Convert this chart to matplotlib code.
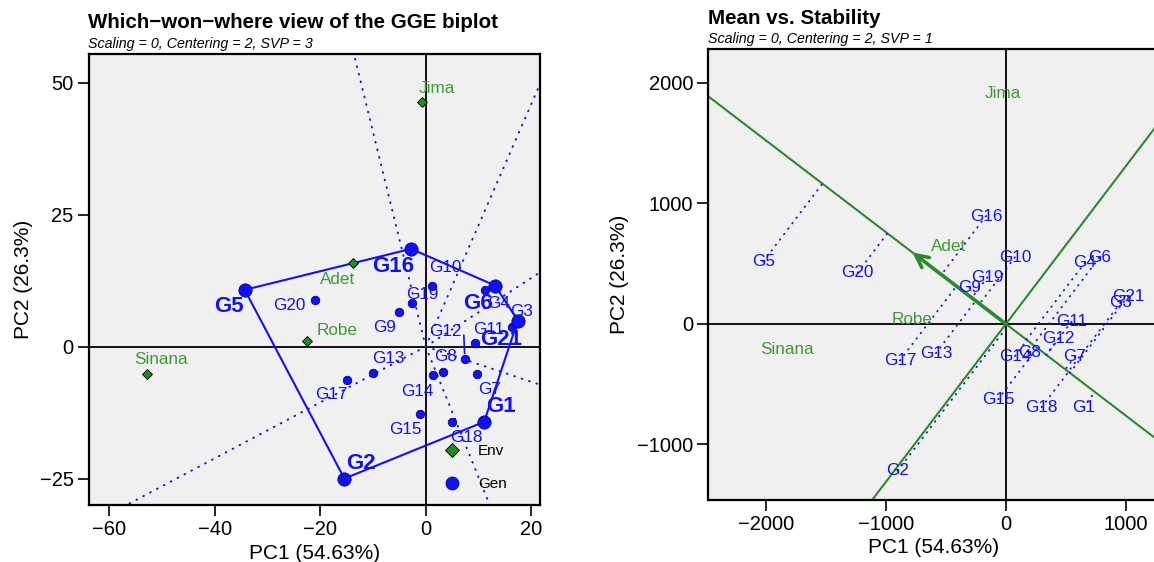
import numpy as np
import matplotlib
matplotlib.use("Agg")
from matplotlib import pyplot as plt
from matplotlib.lines import Line2D

plt.rcParams["font.family"] = ["Liberation Sans", "DejaVu Sans"]

# --- which-won-where biplot (SVP = 3) ---
gen_names = ["G1", "G2", "G3", "G4", "G5", "G6", "G7", "G8", "G9", "G10", "G11",
             "G12", "G13", "G14", "G15", "G16", "G17", "G18", "G19", "G20", "G21"]
gen_pc1 = [11.08, -15.43, 16.34, 11.27, -34.33, 13.17, 9.70, 3.36, -5.05, 1.27, 9.37,
           7.42, -9.92, 1.46, -1.06, -2.77, -14.97, 5.07, -2.58, -20.93, 17.47]
gen_pc2 = [-14.26, -25.0, 3.79, 10.74, 10.74, 11.55, -5.17, -4.73, 6.52, 11.5, 0.64,
           -2.39, -4.92, -5.36, -12.69, 18.5, -6.25, -14.26, 8.33, 8.84, 4.92]
env_names = ["Jima", "Adet", "Robe", "Sinana"]
env_pc1 = [-0.63, -13.83, -22.56, -52.81]
env_pc2 = [46.29, 15.8, 1.08, -5.17]

# --- mean vs stability biplot (SVP = 1) ---
ms_gen_pc1 = [644, -902, 955, 658, -2021, 777, 575, 194, -300, 75, 547,
              436, -583, 75, -64, -166, -883, 297, -155, -1235, 1018]
ms_gen_pc2 = [-691, -1220, 177, 509, 517, 550, -271, -238, 304, 553, 19,
              -124, -243, -266, -625, 896, -304, -691, 387, 426, 232]
ms_env_pc1 = [-22, -480, -785, -1826]
ms_env_pc2 = [1915, 641, 33, -216]

# label offsets for the left panel, in pixels (right, down)
gen_offsets = {"G1": (17, -15), "G2": (17, -15), "G3": (10, -15), "G4": (13, 14),
               "G5": (-16, 17), "G6": (-17, 18), "G7": (13, 16), "G8": (2, -15),
               "G9": (-15, 15), "G10": (13, -18), "G11": (14, -14), "G12": (-20, -28),
               "G13": (15, -14), "G14": (-16, 17), "G15": (-15, 16), "G16": (-18, 18),
               "G17": (-15, 15), "G18": (14, 16), "G19": (10, -8), "G20": (-26, 6),
               "G21": (-17, 19)}
env_offsets = {"Jima": (14, -14), "Adet": (-15, 16), "Robe": (30, -10), "Sinana": (14, -14)}

BLUE = "#1010ff"
GREEN_TXT = "#3f9a34"
GREEN = "#2b8a2b"
BG = "#f0f0f0"
PX = 0.72  # points per pixel at dpi 100


def convex_hull(pts):
    pts = sorted(set(pts))
    def cross(o, a, b):
        return (a[0] - o[0]) * (b[1] - o[1]) - (a[1] - o[1]) * (b[0] - o[0])
    lower, upper = [], []
    for p in pts:
        while len(lower) >= 2 and cross(lower[-2], lower[-1], p) <= 0:
            lower.pop()
        lower.append(p)
    for p in reversed(pts):
        while len(upper) >= 2 and cross(upper[-2], upper[-1], p) <= 0:
            upper.pop()
        upper.append(p)
    return lower[:-1] + upper[:-1]


def style_axes(ax):
    ax.set_facecolor(BG)
    for s in ax.spines.values():
        s.set_linewidth(1.6)
    ax.tick_params(direction="out", length=8, width=1.2, labelsize=14.5, pad=3)
    ax.axhline(0, color="black", lw=1.3, zorder=1)
    ax.axvline(0, color="black", lw=1.3, zorder=1)


fig = plt.figure(figsize=(11.54, 5.62), dpi=100)

# ================= left panel =================
ax = fig.add_axes([88.8 / 1154, 57 / 562, 450.8 / 1154, 451 / 562])
style_axes(ax)
ax.set_xlim(-63.9, 21.6)
ax.set_ylim(-30.0, 55.4)
ax.set_xticks([-60, -40, -20, 0, 20])
ax.set_yticks([-25, 0, 25, 50])

pts = list(zip(gen_pc1, gen_pc2))
hull = convex_hull(pts)
hx = [p[0] for p in hull] + [hull[0][0]]
hy = [p[1] for p in hull] + [hull[0][1]]
ax.plot(hx, hy, color=BLUE, lw=1.5, zorder=3)

# rays perpendicular to hull sides
for i in range(len(hull)):
    a = np.array(hull[i])
    b = np.array(hull[(i + 1) % len(hull)])
    d = b - a
    foot = a - (a @ d) / (d @ d) * d
    u = foot / np.linalg.norm(foot)
    ax.plot([0, u[0] * 300], [0, u[1] * 300], color=BLUE, lw=1.4,
            linestyle=(0, (0.4, 3.6)), dash_capstyle="round", zorder=2)

vertex_set = set(hull)
for name, x, y in zip(gen_names, gen_pc1, gen_pc2):
    big = (x, y) in vertex_set
    ax.plot(x, y, "o", ms=9.6 if big else 6.2, color=BLUE, mec="#000060",
            mew=0.5, zorder=4)
    dx, dy = gen_offsets[name]
    ax.annotate(name, (x, y), xytext=(dx * PX, -dy * PX), textcoords="offset points",
                ha="center", va="center", color=BLUE,
                fontsize=16 if big else 12.3, fontweight="bold" if big else "normal",
                zorder=5)

# leader line for G12
i12 = gen_names.index("G12")
ax.annotate("", (gen_pc1[i12], gen_pc2[i12]), xytext=(-1 * PX, 24 * PX),
            textcoords="offset points",
            arrowprops=dict(arrowstyle="-", color=BLUE, lw=1.2, shrinkA=0, shrinkB=4))

for name, x, y in zip(env_names, env_pc1, env_pc2):
    ax.plot(x, y, "D", ms=5.0, color="forestgreen", mec="black", mew=0.6, zorder=4)
    dx, dy = env_offsets[name]
    ax.annotate(name, (x, y), xytext=(dx * PX, -dy * PX), textcoords="offset points",
                ha="center", va="center", color=GREEN_TXT, fontsize=12.3, zorder=5)

handles = [Line2D([], [], marker="D", ls="none", color="forestgreen", mec="black",
                  mew=0.6, ms=7.6, label="Env"),
           Line2D([], [], marker="o", ls="none", color=BLUE, mec="#000060",
                  mew=0.5, ms=9.4, label="Gen")]
ax.legend(handles=handles, loc="upper left", bbox_to_anchor=(0.789, 0.135),
          frameon=False, fontsize=11, handlelength=1.0, handletextpad=1.2,
          labelspacing=1.25, borderpad=0, borderaxespad=0)

ax.set_xlabel("PC1 (54.63%)", fontsize=15)
ax.xaxis.set_label_coords(0.5, -0.086)
ax.set_ylabel("PC2 (26.3%)", fontsize=15, va="center")
ax.yaxis.set_label_coords(-0.145, 0.5)

fig.text(88 / 1154, 1 - 23 / 562, "Which\u2212won\u2212where view of the GGE biplot",
         fontsize=14.8, fontweight="bold", va="center", ha="left")
fig.text(88 / 1154, 1 - 44 / 562, "Scaling = 0, Centering = 2, SVP = 3",
         fontsize=10.3, style="italic", va="center", ha="left")

# ================= right panel =================
ax2 = fig.add_axes([708.3 / 1154, 62 / 562, 451 / 1154, 451 / 562])
style_axes(ax2)
ax2.set_xlim(-2478, 1277)
ax2.set_ylim(-1461, 2282)
ax2.set_xticks([-2000, -1000, 0, 1000])
ax2.set_yticks([-1000, 0, 1000, 2000])

mean_env = np.array([np.mean(ms_env_pc1), np.mean(ms_env_pc2)])
u = mean_env / np.linalg.norm(mean_env)
ax2.axline((0, 0), tuple(mean_env), color=GREEN, lw=1.5, zorder=2)
ax2.axline((0, 0), (-u[1], u[0]), color=GREEN, lw=1.5, zorder=2)
ax2.annotate("", xy=tuple(mean_env), xytext=(0, 0),
             arrowprops=dict(arrowstyle="->,head_length=0.9,head_width=0.45",
                             color=GREEN, lw=2.6, shrinkA=0, shrinkB=0), zorder=3)

for name, x, y in zip(gen_names, ms_gen_pc1, ms_gen_pc2):
    p = np.array([x, y])
    foot = (p @ u) * u
    ax2.plot([x, foot[0]], [y, foot[1]], color=BLUE, lw=1.3,
             linestyle=(0, (0.4, 3.4)), dash_capstyle="round", zorder=2)
    ax2.text(x, y, name, ha="center", va="center", color=BLUE, fontsize=12.3, zorder=4)

for name, x, y in zip(env_names, ms_env_pc1, ms_env_pc2):
    ax2.text(x, y, name, ha="center", va="center", color=GREEN_TXT, fontsize=12.3,
             zorder=4)

ax2.set_xlabel("PC1 (54.63%)", fontsize=15)
ax2.xaxis.set_label_coords(0.5, -0.085)
ax2.set_ylabel("PC2 (26.3%)", fontsize=15, va="center")
ax2.yaxis.set_label_coords(-0.196, 0.5)

fig.text(708 / 1154, 1 - 18 / 562, "Mean vs. Stability",
         fontsize=14.8, fontweight="bold", va="center", ha="left")
fig.text(708 / 1154, 1 - 39 / 562, "Scaling = 0, Centering = 2, SVP = 1",
         fontsize=10.3, style="italic", va="center", ha="left")

fig.savefig("out.png", dpi=100)
